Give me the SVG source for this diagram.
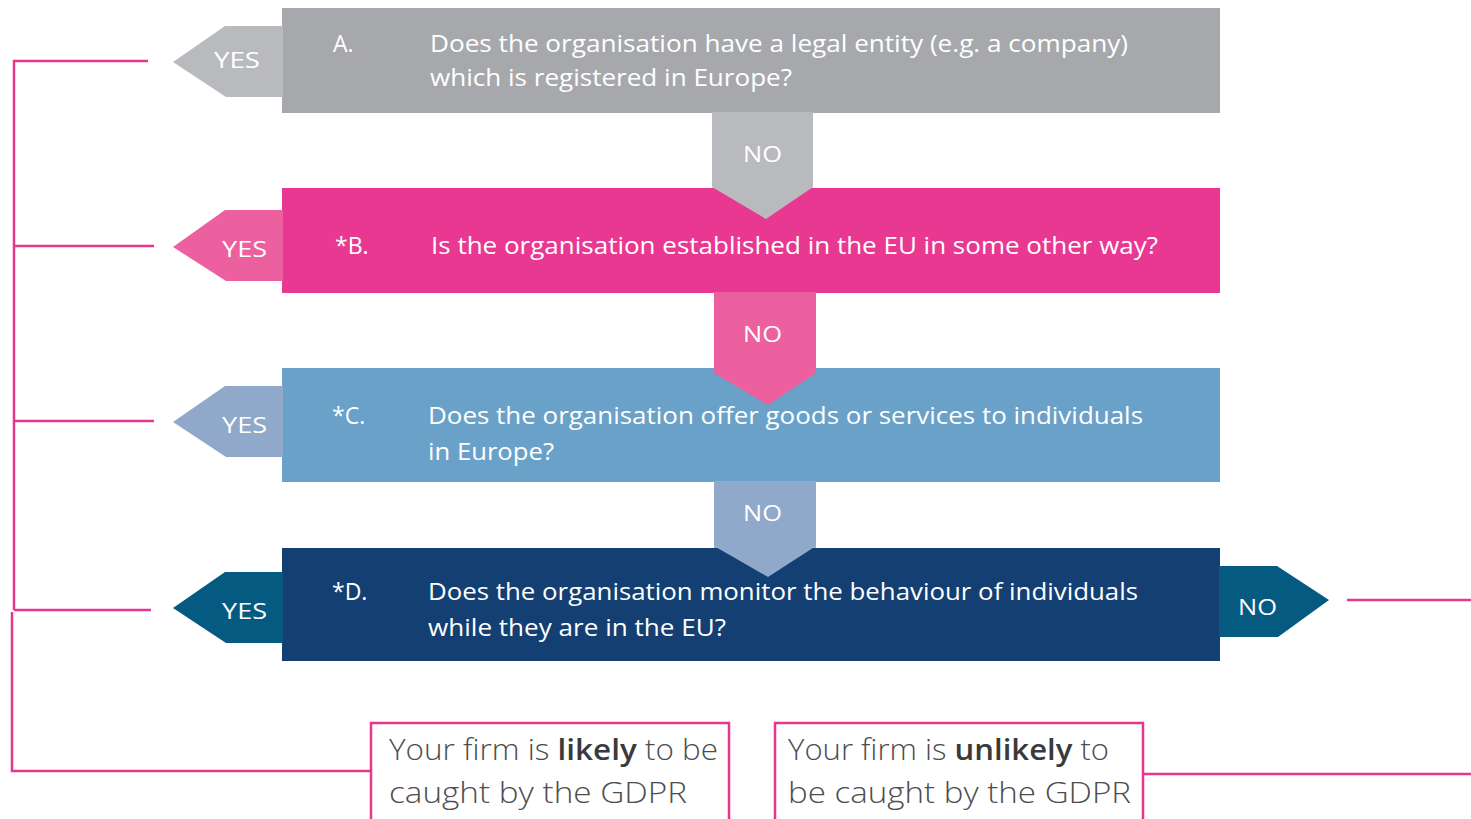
<svg xmlns="http://www.w3.org/2000/svg" width="1471" height="819" viewBox="0 0 1471 819">
<style>
.q{font-family:"Open Sans","Liberation Sans",sans-serif;font-weight:500;font-size:23px;fill:#ffffff}
.lbl{font-family:"Open Sans","Liberation Sans",sans-serif;font-weight:500;font-size:22px;fill:#ffffff}
.res{font-family:"Open Sans","Liberation Sans",sans-serif;font-weight:300;font-size:29px;fill:#4d4d4f}
.res .b{font-weight:600;fill:#3a3a3c}
.ln{stroke:#e8368f;stroke-width:2.5;fill:none}
</style>
<rect width="1471" height="819" fill="#ffffff"/>
<g id="connectors">
<polyline class="ln" points="148,61 14,61 14,610"/>
<line class="ln" x1="14" y1="246" x2="154" y2="246"/>
<line class="ln" x1="14" y1="421" x2="154" y2="421"/>
<line class="ln" x1="14" y1="610" x2="151" y2="610"/>
<polyline class="ln" points="12,612 12,771 371,771"/>
<line class="ln" x1="1347" y1="600" x2="1471" y2="600"/>
<line class="ln" x1="1143" y1="774" x2="1471" y2="774"/>
</g>
<g id="nodeA">
<rect x="282" y="8" width="938" height="105" fill="#a7a8ac"/>
<text class="q" x="333" y="52">A.</text>
<text class="q" x="430" y="52" textLength="698" lengthAdjust="spacingAndGlyphs">Does the organisation have a legal entity (e.g. a company)</text>
<text class="q" x="430" y="86" textLength="362" lengthAdjust="spacingAndGlyphs">which is registered in Europe?</text>
</g>
<g id="yesA">
<polygon points="173,62 225,26 283,26 283,97 226,97" fill="#b9babe"/>
<text class="lbl" x="214" y="68" textLength="46" lengthAdjust="spacingAndGlyphs">YES</text>
</g>
<g id="noA">
<polygon points="712,112 813,112 813,187 766,219 712,187" fill="#b9babe"/>
<text class="lbl" x="743" y="162" textLength="39" lengthAdjust="spacingAndGlyphs">NO</text>
</g>
<g id="nodeB">
<rect x="282" y="188" width="938" height="105" fill="#e83892"/>
<polygon points="712,187 813,187 766,219" fill="#b9babe"/>
<text class="q" x="335" y="254">*B.</text>
<text class="q" x="431" y="254" textLength="727" lengthAdjust="spacingAndGlyphs">Is the organisation established in the EU in some other way?</text>
</g>
<g id="yesB">
<polygon points="173,247 225,210 283,210 283,281 226,281" fill="#ec609f"/>
<text class="lbl" x="222" y="257" textLength="45" lengthAdjust="spacingAndGlyphs">YES</text>
</g>
<g id="noB">
<polygon points="714,292 816,292 816,373 768,405 714,373" fill="#ec609f"/>
<text class="lbl" x="743" y="342" textLength="39" lengthAdjust="spacingAndGlyphs">NO</text>
</g>
<g id="nodeC">
<rect x="282" y="368" width="938" height="114" fill="#6aa1c8"/>
<polygon points="714,368 816,368 816,373 768,405 714,373" fill="#ec609f"/>
<text class="q" x="332" y="424">*C.</text>
<text class="q" x="428" y="424" textLength="715" lengthAdjust="spacingAndGlyphs">Does the organisation offer goods or services to individuals</text>
<text class="q" x="428" y="460" textLength="126" lengthAdjust="spacingAndGlyphs">in Europe?</text>
</g>
<g id="yesC">
<polygon points="173,422 225,386 283,386 283,457 226,457" fill="#90a8c9"/>
<text class="lbl" x="222" y="433" textLength="45" lengthAdjust="spacingAndGlyphs">YES</text>
</g>
<g id="noC">
<polygon points="714,481 816,481 816,546 768,577 714,546" fill="#90a8c9"/>
<text class="lbl" x="743" y="521" textLength="39" lengthAdjust="spacingAndGlyphs">NO</text>
</g>
<g id="nodeD">
<rect x="282" y="548" width="938" height="113" fill="#143f73"/>
<polygon points="714,548 816,548 816,546 768,577 714,546" fill="#90a8c9"/>
<text class="q" x="332" y="600">*D.</text>
<text class="q" x="428" y="600" textLength="710" lengthAdjust="spacingAndGlyphs">Does the organisation monitor the behaviour of individuals</text>
<text class="q" x="428" y="636" textLength="298" lengthAdjust="spacingAndGlyphs">while they are in the EU?</text>
</g>
<g id="yesD">
<polygon points="173,608 225,572 283,572 283,643 226,643" fill="#055a81"/>
<text class="lbl" x="222" y="619" textLength="45" lengthAdjust="spacingAndGlyphs">YES</text>
</g>
<g id="noD">
<polygon points="1219,566 1277,566 1329,600 1278,637 1219,637" fill="#055a81"/>
<text class="lbl" x="1238" y="615" textLength="39" lengthAdjust="spacingAndGlyphs">NO</text>
</g>
<g id="resultLikely">
<polyline class="ln" points="371,822 371,723 729,723 729,822"/>
<text class="res" x="389" y="760" textLength="329" lengthAdjust="spacingAndGlyphs">Your firm is <tspan class="b">likely</tspan> to be</text>
<text class="res" x="389" y="803" textLength="298" lengthAdjust="spacingAndGlyphs">caught by the GDPR</text>
</g>
<g id="resultUnlikely">
<polyline class="ln" points="775,822 775,723 1143,723 1143,822"/>
<text class="res" x="788" y="760" textLength="321" lengthAdjust="spacingAndGlyphs">Your firm is <tspan class="b">unlikely</tspan> to</text>
<text class="res" x="788" y="803" textLength="343" lengthAdjust="spacingAndGlyphs">be caught by the GDPR</text>
</g>
</svg>
